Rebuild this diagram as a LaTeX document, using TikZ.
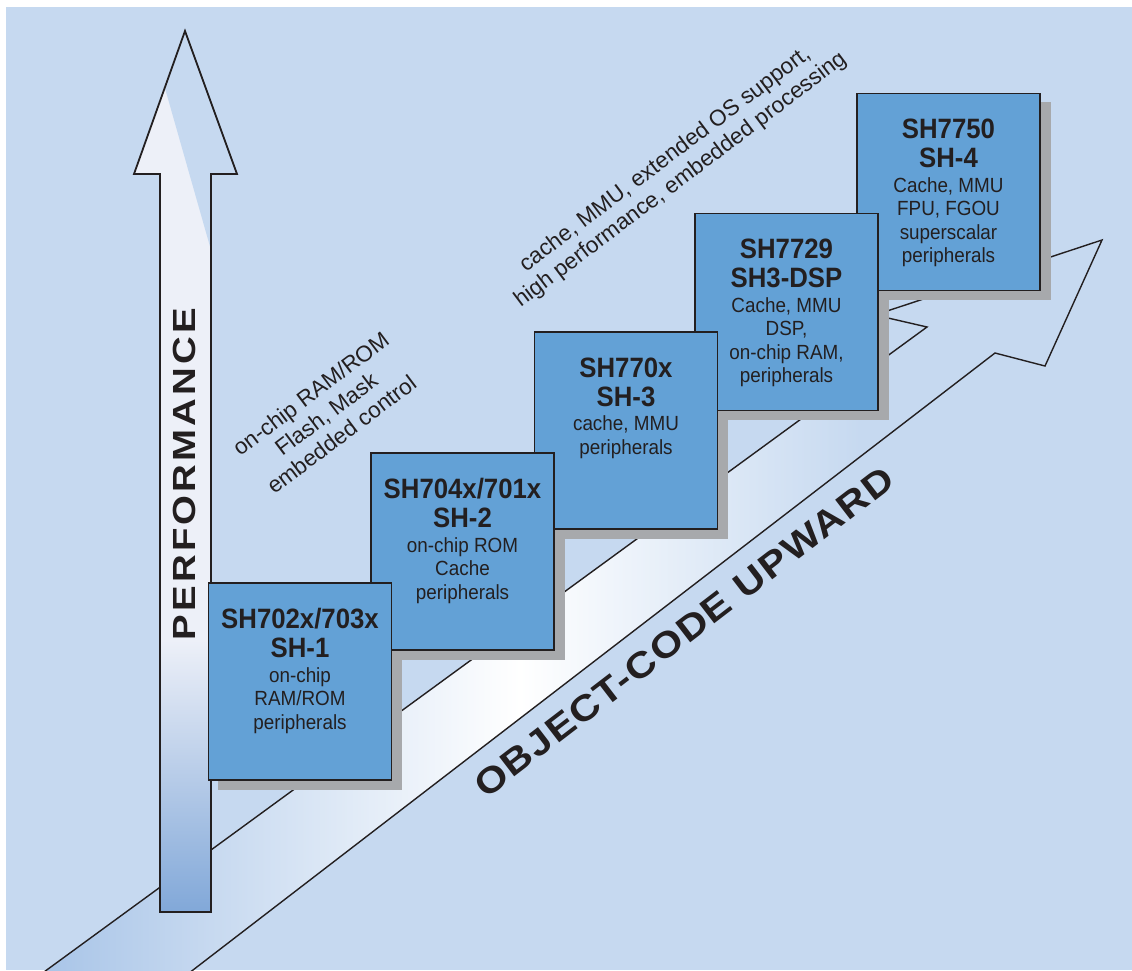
\documentclass[tikz,border=0pt]{standalone}
\usepackage{fontspec}
\setmainfont{Liberation Sans}
\newfontfamily\chipfont[FakeStretch=0.92]{Liberation Sans}
\newfontfamily\widefont[FakeStretch=1.2,LetterSpace=10]{Liberation Sans}
\newfontfamily\codefont[FakeStretch=1.15,LetterSpace=4]{Liberation Sans}
\usetikzlibrary{positioning,backgrounds}

\definecolor{bgblue}{HTML}{C6D9F0}
\definecolor{chipblue}{HTML}{63A1D6}
\definecolor{shadowgrey}{HTML}{A7A9AC}
\definecolor{bandblue}{HTML}{A6C3E7}
\definecolor{arrowlight}{HTML}{EDF0F8}
\definecolor{arrowdeep}{HTML}{80A7D8}
\definecolor{inkdark}{HTML}{231F20}

\begin{document}
\begin{tikzpicture}[x=1pt, y=-1pt,
  chip/.style={rectangle, draw=inkdark, line width=1.3pt, fill=chipblue, minimum width=183pt, minimum height=197pt, inner sep=0pt},
  chiptitle/.style={font=\chipfont\bfseries\fontsize{28}{29}\selectfont, text=inkdark, align=center, inner sep=0pt, anchor=north},
  chipbody/.style={font=\chipfont\fontsize{20.5}{23.5}\selectfont, text=inkdark, align=center, inner sep=0pt},
  annot/.style={font=\fontsize{22.5}{25.5}\selectfont, text=inkdark, align=center, rotate=37, inner sep=0pt},
  bigword/.style={text=inkdark, inner sep=0pt},
]
\useasboundingbox (0,0) rectangle (1132,970);
% chips, lowest in front
\node[chip] (sh4) at (948.5,192) {};
\node[chiptitle] (sh4title) at ([yshift=-26pt]sh4.north) {SH7750\\SH-4};
\node[chipbody, below=9pt of sh4title] (sh4body) {Cache, MMU\\FPU, FGOU\\superscalar\\peripherals};
\node[chip] (sh3dsp) at (786.5,312) {};
\node[chiptitle] (sh3dsptitle) at ([yshift=-26pt]sh3dsp.north) {SH7729\\SH3-DSP};
\node[chipbody, below=9pt of sh3dsptitle] (sh3dspbody) {Cache, MMU\\DSP,\\on-chip RAM,\\peripherals};
\node[chip] (sh3) at (626,430.5) {};
\node[chiptitle] (sh3title) at ([yshift=-26pt]sh3.north) {SH770x\\SH-3};
\node[chipbody, below=9pt of sh3title] (sh3body) {cache, MMU\\peripherals};
\node[chip] (sh2) at (462.5,551.5) {};
\node[chiptitle] (sh2title) at ([yshift=-26pt]sh2.north) {SH704x/701x\\SH-2};
\node[chipbody, below=9pt of sh2title] (sh2body) {on-chip ROM\\Cache\\peripherals};
\node[chip] (sh1) at (300,681.5) {};
\node[chiptitle] (sh1title) at ([yshift=-26pt]sh1.north) {SH702x/703x\\SH-1};
\node[chipbody, below=9pt of sh1title] (sh1body) {on-chip\\RAM/ROM\\peripherals};
% labels
\node[bigword, font=\widefont\bfseries\fontsize{32}{32}\selectfont, rotate=90] (perftext) at (184,474) {PERFORMANCE};
\node[bigword, font=\codefont\bfseries\fontsize{36}{36}\selectfont, rotate=37.5] (codetext) at (684,632) {OBJECT-CODE UPWARD};
\node[annot] (ctrlnote) at (326,414) {on-chip RAM/ROM\\Flash, Mask\\embedded control};
\node[annot] (procnote) at (673,170) {cache, MMU, extended OS support,\\high performance, embedded processing};
% backdrop, arrows and shadows
\begin{scope}[on background layer]
\fill[white] (0,0) rectangle (1132,970);
\fill[bgblue] (6,7) rectangle (1132,970);
% object-code arrow
\coordinate (bandtop) at (33,980);
\coordinate (bandbot) at (180,980);
\begin{scope}
\clip (bandtop) -- (927,327) -- (875,315) -- (1102,240) -- (1045,366) -- (995,353) -- (bandbot) -- cycle;
\fill[left color=bandblue, right color=white] (30,230) rectangle (520,985);
\fill[left color=white, right color=bgblue] (520,230) rectangle (860,985);
\end{scope}
\draw[inkdark, line width=1.4pt] (bandtop) -- (927,327) -- (875,315) -- (1102,240) -- (1045,366) -- (995,353) -- (bandbot);
% performance arrow
\begin{scope}
\clip (185,31) -- (237,174) -- (211,174) -- (211,912) -- (160,912) -- (160,174) -- (134,174) -- cycle;
\fill[arrowlight] (130,25) rectangle (240,915);
\fill[top color=arrowlight, bottom color=arrowdeep] (130,640) rectangle (240,915);
\fill[bgblue] (147,25) -- (211,250) -- (245,250) -- (245,25) -- cycle;
\end{scope}
\draw[inkdark, line width=1.8pt] (185,31) -- (237,174) -- (211,174) -- (211,912) -- (160,912) -- (160,174) -- (134,174) -- cycle;
\foreach \chipname in {sh4,sh3dsp,sh3,sh2,sh1}
  \fill[shadowgrey] ([shift={(10,9)}]\chipname.south west) rectangle ([shift={(10,9)}]\chipname.north east);
\end{scope}
\end{tikzpicture}
\end{document}
